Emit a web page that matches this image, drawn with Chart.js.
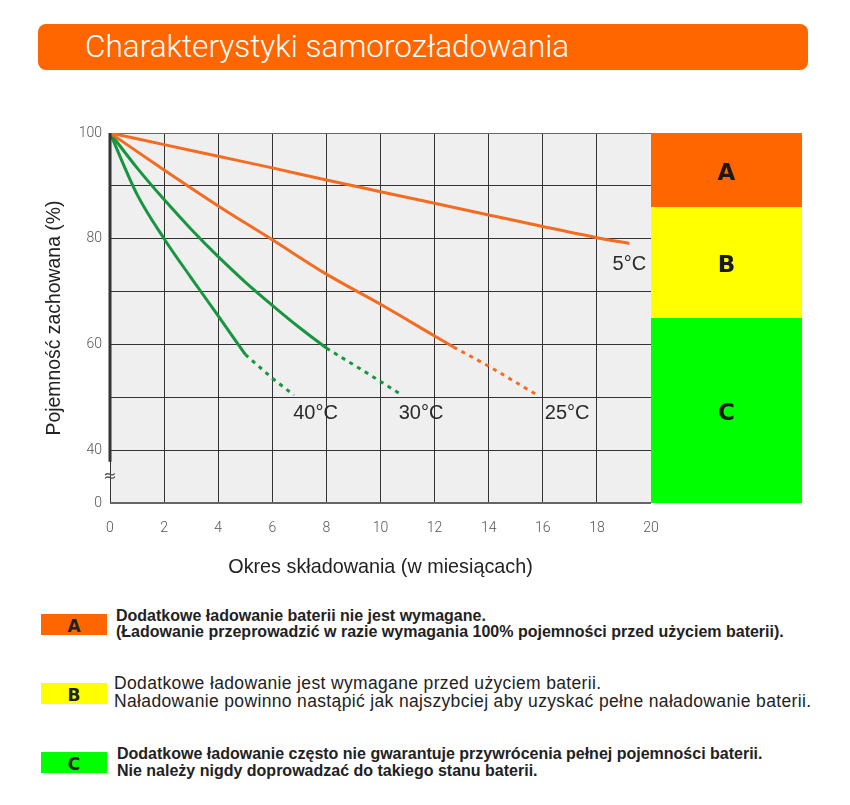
<!DOCTYPE html>
<html lang="pl">
<head>
<meta charset="utf-8">
<script src="https://cdn.jsdelivr.net/npm/chart.js@4.4.1/dist/chart.umd.min.js"></script>
<style>
  body { margin: 0; background: #fff; }
  #page { position: relative; width: 850px; height: 805px; overflow: hidden; }
  #title-bar {
    position: absolute; left: 38px; top: 24px; width: 770px; height: 46px;
    background: #ff6600; border-radius: 8px;
  }
  #title-bar span {
    position: absolute; left: 47px; top: 0; line-height: 46px;
    font-family: Roboto, sans-serif; font-weight: 300; font-size: 31.5px; color: #fff;
  }
  #chart-box { position: absolute; left: 0; top: 0; width: 850px; height: 600px; }
  .key-box {
    position: absolute; left: 41px; width: 66px; height: 21px;
    font-family: "DejaVu Sans", sans-serif; font-weight: bold; font-size: 17px;
    color: #222; text-align: center; line-height: 24px;
  }
  .key-line {
    position: absolute; white-space: nowrap;
    font-family: "Liberation Sans", sans-serif; font-size: 16px; color: #222;
    line-height: 20px; font-weight: bold;
  }
  .key-line.plain { font-weight: normal; font-size: 17.5px; letter-spacing: 0.35px; }
</style>
</head>
<body>
<div id="page">
  <div id="title-bar"><span>Charakterystyki samorozładowania</span></div>
  <div id="chart-box"><canvas id="chart" width="850" height="600"></canvas></div>

  <div class="key-box" style="top:614px;background:#ff6600;">A</div>
  <div class="key-line" style="left:116px;top:605.5px;">Dodatkowe ładowanie baterii nie jest wymagane.</div>
  <div class="key-line" style="left:116px;top:622px;">(Ładowanie przeprowadzić w razie wymagania 100% pojemności przed użyciem baterii).</div>

  <div class="key-box" style="top:683px;background:#ffff00;">B</div>
  <div class="key-line plain" style="left:114px;top:673px;">Dodatkowe ładowanie jest wymagane przed użyciem baterii.</div>
  <div class="key-line plain" style="left:114px;top:691px;">Naładowanie powinno nastąpić jak najszybciej aby uzyskać pełne naładowanie baterii.</div>

  <div class="key-box" style="top:752px;background:#00ff00;">C</div>
  <div class="key-line" style="left:117px;top:744px;">Dodatkowe ładowanie często nie gwarantuje przywrócenia pełnej pojemności baterii.</div>
  <div class="key-line" style="left:117px;top:761px;">Nie należy nigdy doprowadzać do takiego stanu baterii.</div>
</div>

<script>
// storage time (months) and retained capacity (%) for each temperature
const months5 = [0, 2, 4, 6, 8, 10, 12, 14, 16, 18, 19.2];
const cap5 = [100, 97.8, 95.6, 93.4, 91.1, 88.9, 86.7, 84.5, 82.3, 80.2, 79.1];

const months25 = [0, 2, 4, 6, 8, 10, 12, 12.7];
const cap25 = [100, 93.0, 86.2, 79.8, 73.3, 67.6, 61.6, 59.5];
const months25dot = [12.7, 14, 15.8];
const cap25dot = [59.5, 55.9, 50.4];

const months30 = [0, 1, 2, 3, 4, 5, 6, 7, 8];
const cap30 = [100, 93.4, 87.4, 81.8, 76.6, 71.8, 67.4, 63.2, 59.3];
const months30dot = [8, 9.5, 10.8];
const cap30dot = [59.3, 54.6, 50.4];

const months40 = [0, 1, 2, 3, 4, 5];
const cap40 = [100, 88.4, 80, 72.6, 65.4, 58.1];
const months40dot = [5, 6, 6.8];
const cap40dot = [58.1, 53.6, 50.4];

// curve labels: text, month, capacity
const curveLabels = ["5°C", "25°C", "30°C", "40°C"];
const labelMonths = [19.2, 16.9, 11.5, 7.6];
const labelCaps = [75.2, 46.9, 46.9, 46.9];

// zones on the right: A / B / C with capacity limits
const zoneNames = ["A", "B", "C"];
const zoneTop = [100, 86, 65];
const zoneBottom = [86, 65, 30];
const zoneColors = ["#ff6600", "#ffff00", "#00ff00"];

// y axis: lowest tick is shown as 0 (axis is broken below 40)
const yTickLabels = { 30: "0", 40: "40", 60: "60", 80: "80", 100: "100" };

const ORANGE = "#f36c21";
const GREEN = "#17963f";

function pts(xs, ys) {
  return xs.map((x, i) => ({ x: x, y: ys[i] }));
}

function solid(xs, ys, color) {
  return {
    data: pts(xs, ys), borderColor: color, borderWidth: 3,
    pointRadius: 0, cubicInterpolationMode: "monotone", fill: false
  };
}

function dotted(xs, ys, color) {
  return {
    data: pts(xs, ys), borderColor: color, borderWidth: 3, borderDash: [4, 5],
    pointRadius: 0, tension: 0, fill: false
  };
}

const decor = {
  id: "decor",
  beforeDraw(chart) {
    const { ctx, chartArea: a } = chart;
    ctx.save();
    ctx.fillStyle = "#efefef";
    ctx.fillRect(a.left, a.top, a.right - a.left, a.bottom - a.top);
    ctx.restore();
  },
  afterDatasetsDraw(chart) {
    const { ctx, chartArea: a } = chart;
    const xs = chart.scales.x, ys = chart.scales.y;

    ctx.save();
    // thick left axis down to the break
    const x0 = xs.getPixelForValue(0);
    ctx.strokeStyle = "#333";
    ctx.lineWidth = 3;
    ctx.beginPath();
    ctx.moveTo(x0, ys.getPixelForValue(100));
    ctx.lineTo(x0, ys.getPixelForValue(37.8));
    ctx.stroke();
    // break mark
    ctx.fillStyle = "#555";
    ctx.font = "16px 'DejaVu Sans'";
    ctx.textAlign = "center";
    ctx.textBaseline = "middle";
    ctx.fillText("≈", x0, ys.getPixelForValue(35));

    // zone column
    const zl = a.right, zw = 151;
    zoneNames.forEach((n, i) => {
      const t = ys.getPixelForValue(zoneTop[i]);
      const b = ys.getPixelForValue(zoneBottom[i]);
      ctx.fillStyle = zoneColors[i];
      ctx.fillRect(zl, t, zw, b - t);
      ctx.fillStyle = "#1a1a1a";
      ctx.font = "bold 23px 'DejaVu Sans'";
      ctx.fillText(n, zl + zw / 2, (t + b) / 2 + 4);
    });

    // temperature labels
    ctx.fillStyle = "#2a2a2a";
    ctx.font = "20px 'Liberation Sans'";
    curveLabels.forEach((txt, i) => {
      ctx.fillText(txt, xs.getPixelForValue(labelMonths[i]), ys.getPixelForValue(labelCaps[i]));
    });
    ctx.restore();
  }
};

new Chart(document.getElementById("chart"), {
  type: "line",
  data: {
    datasets: [
      solid(months5, cap5, ORANGE),
      solid(months25, cap25, ORANGE),
      dotted(months25dot, cap25dot, ORANGE),
      solid(months30, cap30, GREEN),
      dotted(months30dot, cap30dot, GREEN),
      solid(months40, cap40, GREEN),
      dotted(months40dot, cap40dot, GREEN)
    ]
  },
  options: {
    responsive: false,
    animation: false,
    layout: { padding: { top: 133, right: 199, bottom: 0, left: 0 } },
    plugins: { legend: { display: false }, tooltip: { enabled: false } },
    scales: {
      x: {
        type: "linear", min: 0, max: 20,
        border: { display: false },
        grid: {
          drawTicks: false,
          color: "#333",
          lineWidth: 1
        },
        ticks: {
          stepSize: 2, padding: 17, color: "#555",
          font: { family: "Roboto", weight: 300, size: 14 }
        },
        title: {
          display: true, text: "Okres składowania (w miesiącach)", color: "#222",
          font: { family: "Liberation Sans", size: 19.8 },
          padding: { top: 0, bottom: 21 }
        },
        afterFit(s) { s.height = 97; }
      },
      y: {
        min: 30, max: 100,
        border: { display: false },
        grid: {
          drawTicks: false,
          color: (c) => (c.tick && (c.tick.value === 30 || c.tick.value === 100)) ? "#666" : "#333",
          lineWidth: (c) => (c.tick && c.tick.value === 30) ? 2 : 1
        },
        ticks: {
          stepSize: 10, padding: 8, color: "#555",
          font: { family: "Roboto", weight: 300, size: 14 },
          callback: (v) => yTickLabels[v] !== undefined ? yTickLabels[v] : ""
        },
        title: {
          display: true, text: "Pojemność zachowana (%)", color: "#222",
          font: { family: "Liberation Sans", size: 19.4 },
          padding: { top: 43, bottom: 0 }
        },
        afterFit(s) { s.width = 110; }
      }
    }
  },
  plugins: [decor]
});
</script>
</body>
</html>
